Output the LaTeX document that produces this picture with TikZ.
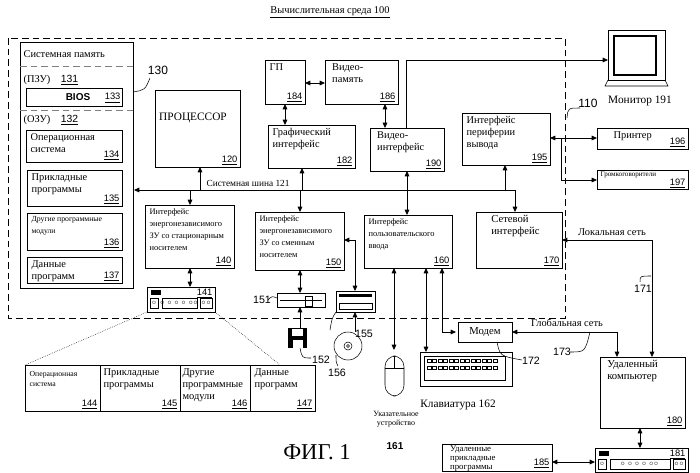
\documentclass[tikz,border=0pt]{standalone}
\usepackage{fontspec}
\setmainfont{Liberation Serif}
\newfontfamily\ar{Liberation Sans}
\usetikzlibrary{arrows.meta}
\newcommand{\nm}[1]{\underline{\ar #1}}
% \bxx{name}{x1}{y1}{x2}{y2}{text}{num}
\newcommand{\bxx}[7]{%
  \draw[box] (#2,#3) rectangle (#4,#5);
  \coordinate (#1-nw) at (#2,#3); \coordinate (#1-se) at (#4,#5);
  \node[txt,anchor=north west] (#1-t) at (#2+3,#3+2) {#6};
  \node[num,anchor=south east] (#1-n) at (#4-1,#5) {\nm{#7}};}
\newcommand{\drive}[5]{% name x y w h
  \draw[box] (#2,#3) rectangle ++(#4,#5);
  \fill (#2+4,#3+3) rectangle ++(10,5);
  \draw (#2+3,#3+11) rectangle ++(8,10);
  \draw (#2+15,#3+11) rectangle ++(#4-33,10);
  \draw (#2+#4-15,#3+11) rectangle ++(12,10);
  \node[txt,font=\tiny\ar] (#1-a) at (#2+#4/2-2,#3+16) {$\circ\circ\circ\circ\circ\circ$};
  \node[txt,font=\tiny\ar] (#1-b) at (#2+#4-9,#3+16) {$\circ\circ$};
  \node[txt,font=\tiny\ar] (#1-c) at (#2+7,#3+16) {$\circ$};}
\newcommand{\sm}{\fontsize{6.3}{7.8}\selectfont}
\begin{document}
\begin{tikzpicture}[x=0.75pt,y=-0.75pt,
  box/.style={draw,line width=0.6pt},
  txt/.style={inner sep=1pt,align=left,font=\fontsize{7.8}{9}\selectfont},
  num/.style={inner sep=1pt,font=\fontsize{7}{7}\selectfont},
  lbl/.style={inner sep=1pt,font=\fontsize{8}{9}\selectfont\ar},
  a/.style={-{Triangle[length=4pt,width=3.5pt]},line width=0.6pt},
  aa/.style={{Triangle[length=4pt,width=3.5pt]}-{Triangle[length=4pt,width=3.5pt]},line width=0.6pt},
  dsh/.style={dashed,dash pattern=on 5pt off 3pt,line width=0.6pt}]
\useasboundingbox (0,0) rectangle (700,472);
\node[txt,font=\fontsize{7.8}{8}\selectfont] (title) at (330,12) {\underline{Вычислительная среда 100}};
\draw[dsh] (8,38) rectangle (565,318);
% system memory
\draw[box] (20,42) rectangle (133,288);
\node[txt,anchor=west] (sm) at (22,54) {Системная память};
\draw[dsh,gray] (20,66) -- (133,66);
\draw[dsh,gray] (20,110) -- (133,110);
\node[txt,anchor=west] (rom) at (22,80) {(ПЗУ)\quad \nm{131}};
\draw[box] (26,88) rectangle (122,106);
\node[txt,font=\fontsize{7.5}{8}\selectfont\ar\bfseries] (bios) at (78,97) {BIOS};
\node[num,anchor=east] (n133) at (122,98) {\nm{133}};
\node[txt,anchor=west] (ram) at (22,120) {(ОЗУ)\quad \nm{132}};
\bxx{os}{26}{130}{122}{162}{Операционная\\система}{134}
\bxx{ap}{27}{170}{122}{206}{Прикладные\\программы}{135}
\bxx{om}{27}{213}{122}{250}{\fontsize{5.8}{7}\selectfont Другие программные\\\fontsize{5.8}{7}\selectfont модули}{136}
\bxx{dp}{27}{257}{122}{283}{Данные\\программ}{137}
\node[lbl,font=\fontsize{9}{9}\ar] (l130) at (158,70) {130};
\draw (133,92) .. controls (145,90) .. (150,78);
% processor
\draw[box] (155,90) rectangle (240,167);
\node[txt,font=\fontsize{8.5}{9}\selectfont] (cpu) at (193,118) {ПРОЦЕССОР};
\node[num,anchor=south east] (n120) at (239,167) {\nm{120}};
% bus
\draw[a] (515,190) -- (134,190);
\draw[a] (200,190) -- (200,167);
\node[txt,anchor=west,font=\fontsize{7}{8}\selectfont] (bus) at (205,183) {Системная шина 121};
% 140
\bxx{i140}{145}{205}{234}{268}{\sm Интерфейс\\\sm энергонезависимого\\\sm ЗУ со стационарным\\\sm носителем}{140}
\draw[a] (190,190) -- (190,205);
\drive{d141}{147}{287}{68}{25}
\node[num,anchor=north east] (n141) at (214,287) {\nm{141}};
\draw[aa] (190,268) -- (190,287);
% graphics
\bxx{gp}{265}{60}{305}{104}{ГП}{184}
\bxx{vm}{325}{60}{398}{104}{\ Видео-\\\ память}{186}
\draw[aa] (305,83) -- (325,83);
\bxx{gi}{268}{125}{355}{168}{Графический\\интерфейс}{182}
\draw[aa] (285,104) -- (285,125);
\draw[a] (302,190) -- (302,168);
% 150
\bxx{i150}{255}{212}{344}{270}{\sm Интерфейс\\\sm энергонезависимого\\\sm ЗУ со сменным\\\sm носителем}{150}
\draw[a] (300,190) -- (300,212);
% 151 floppy drive
\draw[box] (277,293) rectangle (325,307);
\draw (280,300) -- (322,300); \draw (305,296) rectangle (312,306);
\node[lbl] (l151) at (262,300) {151};
\draw (268,300) .. controls (272,296) .. (277,298);
\draw[aa] (300,270) -- (300,293);
% 155 cd drive
\draw[box] (336,291) rectangle (375,312);
\fill (339,294) rectangle (372,297);
\draw (339,303) rectangle (372,309);
\draw[aa] (344,240) -- (355,240) -- (355,291);
\node[lbl] (l155) at (364,334) {155};
\draw (336,312) .. controls (332,318) .. (330,330);
% 152 floppy
\fill (288,328) rectangle (307,348); \fill[white] (293,340) rectangle (303,348);
\fill[white] (292,329) rectangle (303,336);
\draw[a] (300,328) -- (300,307);
\node[lbl] (l152) at (321,360) {152};
\draw (300,348) .. controls (302,358) .. (311,358);
% 156 cd
\draw (348,346) circle (14); \draw (348,346) circle (4); \draw (348,346) circle (1.5);
\draw[a] (355,332) -- (355,312);
\node[lbl] (l156) at (337,373) {156};
\draw (336,355) .. controls (336,362) .. (338,366);
% video interface
\bxx{vi}{370}{128}{444}{171}{\ Видео-\\\ интерфейс}{190}
\draw[aa] (385,104) -- (385,128);
\draw[a] (406,128) -- (406,60) -- (608,60);
\draw[aa] (407,171) -- (407,215);
% 160
\bxx{i160}{364}{215}{452}{268}{\sm Интерфейс\\\sm пользовательского\\\sm ввода}{160}
\draw[aa] (394,268) -- (394,350);
\draw[aa] (426,268) -- (426,352);
\draw[aa] (442,268) -- (442,332) -- (456,332);
% mouse
\draw[rounded corners=8pt] (385,356) rectangle (404,396);
\draw (385,368) -- (404,368); \draw (394,356) -- (394,368);
\node[txt,font=\fontsize{6}{7}\selectfont,align=center] (ptr) at (396,419) {Указательное\\устройство};
\node[lbl,font=\fontsize{7.5}{8}\ar\bfseries] (l161) at (395,446) {161};
% keyboard
\draw[line width=0.6pt] (420,352) rectangle (512,386);
\draw (424,356) rectangle (505,380);
\foreach \i in {0,...,12} {\draw (427+\i*5.5,359) rectangle ++(4,3);}
\foreach \i in {0,...,12} {\draw (427+\i*5.5,366) rectangle ++(4,3);}
\node[txt,font=\fontsize{8.5}{9}\selectfont] (kb) at (458,405) {Клавиатура 162};
% modem
\draw[box] (458,322) rectangle (512,342);
\node[txt,font=\fontsize{8}{8}\selectfont] (modem) at (485,332) {Модем};
\node[lbl] (l172) at (531,361) {172};
\draw (497,342) .. controls (500,356) .. (522,360);
% output periphery
\bxx{op}{462}{113}{550}{165}{Интерфейс\\периферии\\вывода}{195}
\draw[a] (505,190) -- (505,165);
\draw[aa] (550,138) -- (597,138);
\draw[a] (561,138) -- (561,180) -- (597,180);
\node[lbl,font=\fontsize{9}{9}\ar] (l110) at (588,103) {110};
\draw (567,118) .. controls (568,108) .. (580,108);
% network
\bxx{ni}{476}{212}{562}{268}{\fontsize{8}{10}\selectfont\quad Сетевой\\\fontsize{8}{10}\selectfont\quad интерфейс}{170}
\draw[a] (515,190) -- (515,212);
\draw[aa] (562,240) -- (652,240) -- (652,357);
\node[txt,font=\fontsize{7.8}{8}\selectfont] (lan) at (612,232) {Локальная сеть};
\node[lbl] (l171) at (643,289) {171};
\draw (651,276) .. controls (640,276) .. (640,282);
% printer, speakers, monitor
\draw[box] (597,128) rectangle (688,149);
\node[txt,font=\fontsize{7.8}{8}\selectfont,anchor=west] (pr) at (612,136) {Принтер};
\node[num,anchor=south east] (n196) at (687,149) {\nm{196}};
\draw[box] (597,170) rectangle (688,189);
\node[txt,font=\fontsize{5.3}{6}\selectfont,anchor=west] (sp) at (599,175) {Громкоговорители};
\node[num,anchor=south east] (n197) at (687,190) {\nm{197}};
\draw[line width=0.7pt] (608,30) rectangle (665,80);
\draw[line width=1.6pt] (614,36) rectangle (656,75);
\draw (608,80) -- (605,86) -- (668,86) -- (665,80);
\node[txt,font=\fontsize{8.5}{9}\selectfont] (mon) at (640,101) {Монитор 191};
% remote
\draw[aa] (512,332) -- (617,332) -- (617,357);
\node[txt,font=\fontsize{7.8}{8}\selectfont] (wan) at (567,323) {Глобальная сеть};
\node[lbl] (l173) at (562,352) {173};
\draw (570,352) .. controls (585,352) .. (590,332);
\bxx{rc}{600}{357}{685}{428}{\fontsize{8}{10}\selectfont\ Удаленный\\\fontsize{8}{10}\selectfont\ компьютер}{180}
\draw[aa] (640,428) -- (640,448);
\drive{d181}{595}{448}{93}{24}
\node[num,anchor=north east] (n181) at (687,448) {\nm{181}};
\draw[box] (442,444) rectangle (552,471);
\node[txt,anchor=north west,font=\fontsize{6.6}{6.6}\selectfont,inner sep=0.5pt] (ra) at (447,445) {\ Удаленные\\\ прикладные\\\ программы};
\node[num,anchor=south east] (n185) at (551,470) {\nm{185}};
\draw[aa] (552,462) -- (595,462);
% table
\draw[box] (25,365) rectangle (315,411);
\draw (100,365) -- (100,411); \draw (180,365) -- (180,411); \draw (250,365) -- (250,411);
\node[txt,font=\fontsize{5.8}{7}\selectfont,anchor=north west] (t144) at (28,370) {Операционная\\система};
\node[num,anchor=south east] (n144) at (99,411) {\nm{144}};
\node[txt,anchor=north west] (t145) at (102,367) {Прикладные\\программы};
\node[num,anchor=south east] (n145) at (179,411) {\nm{145}};
\node[txt,anchor=north west] (t146) at (181,367) {Другие\\программные\\модули};
\node[num,anchor=south east] (n146) at (249,411) {\nm{146}};
\node[txt,anchor=north west] (t147) at (253,367) {Данные\\программ};
\node[num,anchor=south east] (n147) at (314,411) {\nm{147}};
\draw[densely dotted] (147,312) -- (25,365);
\draw[densely dotted] (215,312) -- (280,365);
\node[inner sep=0pt,font=\fontsize{17}{18}\selectfont] (fig) at (317,452) {ФИГ. 1};
\end{tikzpicture}
\end{document}
